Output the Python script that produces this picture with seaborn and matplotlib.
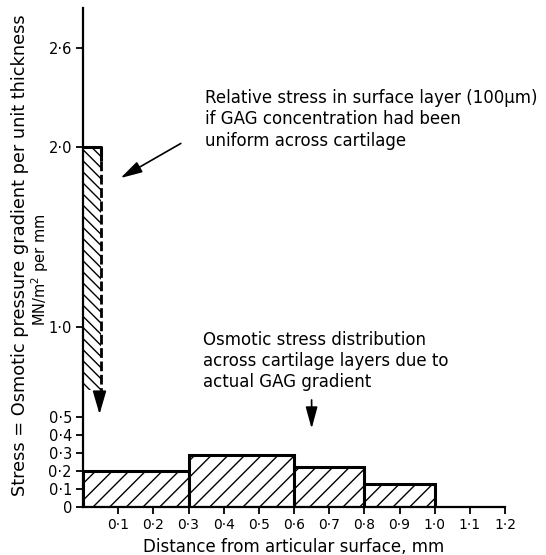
import numpy as np
import pandas as pd
import matplotlib
matplotlib.use("Agg")
import matplotlib.pyplot as plt
import seaborn as sns

# layers across cartilage (mm) and osmotic stress in each (MN/m2 per mm)
layer_edges = [0.0, 0.3, 0.6, 0.8, 1.0]
layer_stress = [0.20, 0.29, 0.22, 0.13]

# surface layer stress if GAG concentration were uniform
surface_edges = [0.0, 0.05]
surface_stress = [2.0]

x_ticks = [0.1, 0.2, 0.3, 0.4, 0.5, 0.6, 0.7, 0.8, 0.9, 1.0, 1.1, 1.2]
y_ticks = [0, 0.1, 0.2, 0.3, 0.4, 0.5, 1.0, 2.0, 2.6]


def fmt(v):
    return "0" if v == 0 else f"{v:.1f}".replace(".", "\u00b7")


sns.set_theme(style="ticks")
plt.rcParams["font.family"] = ["DejaVu Sans"]
plt.rcParams["hatch.linewidth"] = 1.0
plt.rcParams["text.color"] = "black"
plt.rcParams["axes.labelcolor"] = "black"

fig = plt.figure(figsize=(5.46, 5.55), dpi=100)
ax = fig.add_axes([0.152, 0.0865, 0.773, 0.899])

# the hand drawn y axis is slightly squeezed near the top
knots_in = [0.0, 2.0, 2.6, 3.0]
knots_out = [0.0, 2.0, 2.55, 2.92]
ax.set_yscale("function", functions=(lambda y: np.interp(y, knots_in, knots_out),
                                     lambda y: np.interp(y, knots_out, knots_in)))

df = pd.DataFrame({"mid": [(a + b) / 2 for a, b in zip(layer_edges[:-1], layer_edges[1:])],
                   "stress": layer_stress})
sns.histplot(data=df, x="mid", weights="stress", bins=layer_edges, ax=ax,
             color="white", edgecolor="black", linewidth=2.2, alpha=1)
for p in ax.patches:
    p.set_hatch("//")

# tall uniform-surface bar: hatched upper part, solid top, dashed side
ax.bar(surface_edges[0], surface_stress[0] - 0.65, width=surface_edges[1], bottom=0.65,
       align="edge", facecolor="white", edgecolor="black", linewidth=0, hatch="\\\\\\")
ax.plot([surface_edges[0], surface_edges[1], surface_edges[1]],
        [surface_stress[0], surface_stress[0], surface_stress[0] - 0.08],
        color="black", lw=2.2, solid_capstyle="butt")
ax.plot([surface_edges[1], surface_edges[1]], [surface_stress[0] - 0.08, 0.6],
        color="black", lw=2.0, ls=(0, (3.5, 1.3)))
ax.annotate("", xy=(0.047, 0.5), xytext=(0.047, 0.62),
            arrowprops=dict(arrowstyle="-|>,head_length=1.2,head_width=0.35",
                            color="black", lw=1.2))

ax.annotate("", xy=(0.1, 1.82), xytext=(0.285, 2.03),
            arrowprops=dict(arrowstyle="-|>,head_length=1.1,head_width=0.3",
                            color="black", lw=1.2))
ax.text(0.348, 2.35, "Relative stress in surface layer (100\u03bcm)\n"
        "if GAG concentration had been\nuniform across cartilage",
        fontsize=12, va="top", ha="left", linespacing=1.23)

ax.annotate("", xy=(0.65, 0.42), xytext=(0.65, 0.61),
            arrowprops=dict(arrowstyle="-|>,head_length=1.1,head_width=0.3",
                            color="black", lw=1.2))
ax.text(0.34, 0.98, "Osmotic stress distribution\n"
        "across cartilage layers due to\nactual GAG gradient",
        fontsize=12, va="top", ha="left", linespacing=1.23)

ax.set_xlim(0, 1.2)
ax.set_ylim(0, 2.84)
ax.set_xticks(x_ticks)
ax.set_xticklabels([fmt(v) for v in x_ticks], fontsize=10)
ax.set_yticks(y_ticks)
ax.set_yticklabels([fmt(v) for v in y_ticks], fontsize=10.5)
ax.tick_params(axis="both", direction="out", length=5, width=1.3, color="black",
               labelcolor="black", pad=3)
ax.set_xlabel("Distance from articular surface, mm", fontsize=12, labelpad=4)
ax.set_ylabel("")
sns.despine(ax=ax)
for s in ["left", "bottom"]:
    ax.spines[s].set_linewidth(1.6)
    ax.spines[s].set_color("black")

fig.text(0.036, 0.54, "Stress = Osmotic pressure gradient per unit thickness",
         rotation=90, ha="center", va="center", fontsize=12.8)
fig.text(0.073, 0.515, "MN/m$^2$ per mm", rotation=90, ha="center", va="center",
         fontsize=10.5)

fig.savefig("out.png", dpi=100)
